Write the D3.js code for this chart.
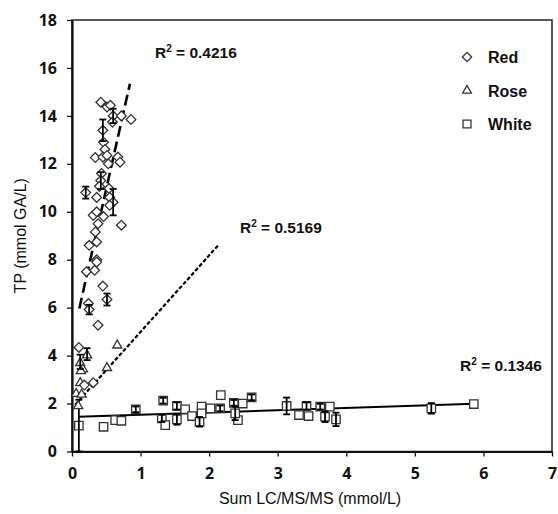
<!DOCTYPE html>
<html>
<head>
<meta charset="utf-8">
<script src="https://cdn.jsdelivr.net/npm/d3@7"></script>
<style>
  body { margin: 0; background: #fff; }
  text { font-family: Arial, "Liberation Sans", sans-serif; }
</style>
</head>
<body>
<div id="chart"></div>
<script>
// values
const redX = [0.42,0.51,0.56,0.60,0.72,0.86,0.59,0.45,0.46,0.48,0.34,0.45,0.51,0.53,0.67,0.70,0.43,0.42,0.40,0.20,0.54,0.36,0.55,0.60,0.55,0.31,0.36,0.46,0.38,0.72,0.34,0.36,0.25,0.36,0.36,0.21,0.33,0.45,0.51,0.24,0.25,0.38,0.10,0.31,0.18];
const redY = [14.57,14.37,14.44,14.0,14.0,13.85,13.74,13.4,12.9,12.6,12.26,12.28,12.35,12.0,12.28,12.07,11.6,11.3,11.06,10.8,10.97,10.6,10.6,10.4,10.27,9.85,10.0,9.8,9.5,9.44,9.16,8.74,8.6,8.0,7.9,7.5,7.56,6.9,6.34,6.17,5.92,5.27,4.34,2.87,2.77];
const redErr = [0,0,0,0.3,0,0,0,0.45,0,0,0,0,0,0,0,0,0,0.35,0,0.25,0,0,0,0.55,0,0,0,0,0,0,0,0,0,0,0,0,0,0,0.25,0,0.2,0,0,0,0];

const roseX = [0.22,0.66,0.51,0.12,0.16,0.13,0.06,0.14,0.09,0.12];
const roseY = [4.06,4.47,3.53,3.74,3.47,3.40,2.45,2.42,1.94,2.90];
const roseErr = [0.25,0,0,0.3,0,0,0,0,0,0];

const whiteX = [0.10,0.46,0.63,0.72,0.93,1.33,1.31,1.36,1.53,1.53,1.65,1.75,1.86,1.89,1.89,2.02,2.16,2.17,2.36,2.49,2.62,2.42,2.38,3.13,3.31,3.42,3.45,3.62,3.69,3.76,3.85,5.24,5.86];
const whiteY = [1.08,1.03,1.31,1.28,1.76,2.12,1.38,1.10,1.90,1.34,1.76,1.48,1.24,1.87,1.59,1.80,1.80,2.35,2.03,2.00,2.26,1.31,1.59,1.90,1.52,1.90,1.48,1.87,1.45,1.87,1.34,1.80,1.98];
const whiteErr = [1.08,0,0,0,0.12,0.12,0.15,0,0.15,0.22,0,0,0.2,0,0,0,0.12,0,0.12,0,0.12,0,0.28,0.35,0,0.15,0,0.12,0.22,0,0.28,0.22,0];

// trend lines: [slope, intercept, xStart, xEnd]
const redTrend = [12.7, 4.61, 0.107, 0.845];
const roseTrend = [3.19, 1.80, 0.044, 2.13];
const whiteTrend = [0.0945, 1.44, 0.092, 5.86];

const r2Labels = ["0.4216", "0.5169", "0.1346"];
const r2X = [1.21, 2.45, 5.66];
const r2Y = [16.4, 9.1, 3.35];

const legendNames = ["Red", "Rose", "White"];
const xTicks = [0, 1, 2, 3, 4, 5, 6, 7];
const yTicks = [0, 2, 4, 6, 8, 10, 12, 14, 16, 18];

const width = 558, height = 514;
const margin = {top: 20, right: 6, bottom: 62.5, left: 72};

const svg = d3.select("#chart").append("svg")
    .attr("width", width)
    .attr("height", height);

const x = d3.scaleLinear().domain([0, 7]).range([margin.left, width - margin.right]);
const y = d3.scaleLinear().domain([0, 18]).range([height - margin.bottom, margin.top]);

// frame
svg.append("rect")
    .attr("x", x(0)).attr("y", y(18))
    .attr("width", x(7) - x(0)).attr("height", y(0) - y(18))
    .attr("fill", "none").attr("stroke", "#222").attr("stroke-width", 1.5);

const xAxis = svg.append("g")
    .attr("transform", `translate(0,${y(0)})`)
    .call(d3.axisBottom(x).tickValues(xTicks).tickFormat(d3.format("d")).tickSize(5).tickSizeOuter(0).tickPadding(11));
const yAxis = svg.append("g")
    .attr("transform", `translate(${x(0)},0)`)
    .call(d3.axisLeft(y).tickValues(yTicks).tickFormat(d3.format("d")).tickSize(5).tickSizeOuter(0).tickPadding(10));

[xAxis, yAxis].forEach(g => {
  g.select(".domain").attr("stroke", "#111").attr("stroke-width", 2.2);
  g.selectAll(".tick line").attr("stroke", "#111").attr("stroke-width", 1.3);
  g.selectAll(".tick text")
    .attr("fill", "#111")
    .style("font-family", "'Open Sans', sans-serif")
    .style("font-weight", "bold")
    .style("font-size", "16px");
});

svg.append("text")
    .attr("x", (x(0) + x(7)) / 2 - 2)
    .attr("y", 504)
    .attr("text-anchor", "middle")
    .style("font-size", "16px")
    .attr("fill", "#111")
    .text("Sum LC/MS/MS (mmol/L)");

svg.append("text")
    .attr("transform", `translate(26,${(y(0) + y(18)) / 2}) rotate(-90)`)
    .attr("text-anchor", "middle")
    .style("font-size", "16px")
    .attr("fill", "#111")
    .text("TP (mmol GA/L)");

// trend lines
function trend(t, dash, w) {
  svg.append("line")
    .attr("x1", x(t[2])).attr("y1", y(t[0] * t[2] + t[1]))
    .attr("x2", x(t[3])).attr("y2", y(t[0] * t[3] + t[1]))
    .attr("stroke", "#000")
    .attr("stroke-width", w)
    .attr("stroke-dasharray", dash);
}
trend(redTrend, "11,5", 2.6);
trend(roseTrend, "4,2", 2.2);
trend(whiteTrend, null, 2);

const sym = {
  Red: d3.symbol().type(d3.symbolDiamond2).size(60),
  Rose: d3.symbol().type(d3.symbolTriangle2).size(60),
  White: d3.symbol().type(d3.symbolSquare2).size(90)
};

function series(xs, ys, errs, name) {
  const data = xs.map((d, i) => ({x: d, y: ys[i], e: errs[i]}));
  const g = svg.append("g");
  g.selectAll("path.pt")
    .data(data)
    .enter().append("path")
    .attr("class", "pt")
    .attr("transform", d => `translate(${x(d.x)},${y(d.y) + (name === "Rose" ? 1 : 0)})`)
    .attr("d", sym[name])
    .attr("fill", "#fff")
    .attr("stroke", "#333")
    .attr("stroke-width", 1.3);
  const eb = g.selectAll("g.err")
    .data(data.filter(d => d.e > 0))
    .enter().append("g")
    .attr("class", "err")
    .attr("stroke", "#000")
    .attr("stroke-width", 1.8);
  eb.append("line")
    .attr("x1", d => x(d.x)).attr("x2", d => x(d.x))
    .attr("y1", d => y(d.y - d.e)).attr("y2", d => y(d.y + d.e));
  eb.append("line")
    .attr("x1", d => x(d.x) - 3.5).attr("x2", d => x(d.x) + 3.5)
    .attr("y1", d => y(d.y - d.e)).attr("y2", d => y(d.y - d.e));
  eb.append("line")
    .attr("x1", d => x(d.x) - 3.5).attr("x2", d => x(d.x) + 3.5)
    .attr("y1", d => y(d.y + d.e)).attr("y2", d => y(d.y + d.e));
}
series(whiteX, whiteY, whiteErr, "White");
series(roseX, roseY, roseErr, "Rose");
series(redX, redY, redErr, "Red");

// R² labels
r2Labels.forEach((v, i) => {
  const t = svg.append("text")
    .attr("x", x(r2X[i]))
    .attr("y", y(r2Y[i]))
    .style("font-size", "15.5px")
    .style("font-weight", "bold")
    .attr("fill", "#111");
  t.append("tspan").text("R");
  t.append("tspan").attr("dy", -6).style("font-size", "10px").text("2");
  t.append("tspan").attr("dy", 6).text(" = " + v);
});

// legend
const legend = svg.append("g");
legendNames.forEach((n, i) => {
  const ly = 57 + i * 33.5;
  legend.append("path")
    .attr("transform", `translate(467,${ly})`)
    .attr("d", d3.symbol().type(n === "Red" ? d3.symbolDiamond2 : n === "Rose" ? d3.symbolTriangle2 : d3.symbolSquare2).size(n === "White" ? 80 : 55))
    .attr("fill", "#fff")
    .attr("stroke", "#333")
    .attr("stroke-width", 1.3);
  legend.append("text")
    .attr("x", 488)
    .attr("y", ly + 6)
    .style("font-size", "16px")
    .style("font-weight", "bold")
    .attr("fill", "#111")
    .text(n);
});
</script>
</body>
</html>
